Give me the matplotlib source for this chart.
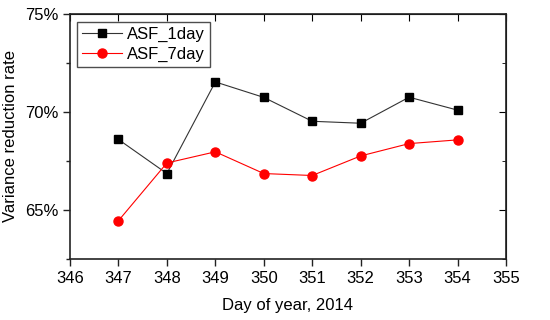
import matplotlib.pyplot as plt
from matplotlib.ticker import FuncFormatter, MultipleLocator

plt.rcParams["font.family"] = ["Liberation Sans", "DejaVu Sans"]

days = [347, 348, 349, 350, 351, 352, 353, 354]
asf_1day = [68.59, 66.85, 71.53, 70.74, 69.52, 69.42, 70.75, 70.09]
asf_7day = [64.44, 67.39, 67.96, 66.85, 66.75, 67.75, 68.38, 68.57]

fig = plt.figure(figsize=(5.5, 3.2), dpi=100)
ax = fig.add_axes([70 / 550, 1 - 258.7 / 320, 436 / 550, 244.7 / 320])

ax.plot(days, asf_1day, color="#333333", lw=0.8, marker="s", ms=5.5,
        mfc="black", mec="black", label="ASF_1day")
ax.plot(days, asf_7day, color="red", lw=0.8, marker="o", ms=6.5,
        mfc="red", mec="red", label="ASF_7day")

ax.set_xlim(346, 355)
ax.set_ylim(62.5, 75)
ax.xaxis.set_major_locator(MultipleLocator(1))
ax.yaxis.set_major_locator(MultipleLocator(5))
ax.yaxis.set_minor_locator(MultipleLocator(2.5))
ax.yaxis.set_major_formatter(FuncFormatter(lambda v, p: f"{v:.0f}%"))

for s in ax.spines.values():
    s.set_linewidth(1.2)
    s.set_color("#222222")

ax.tick_params(axis="both", which="both", labelsize=12, width=1.0,
               color="#222222")
ax.tick_params(axis="both", which="major", length=5, direction="out")
ax.tick_params(axis="y", which="minor", length=3, direction="out")
ax.tick_params(axis="x", which="minor", bottom=False)

# mirrored ticks on top/right pointing inward
axr = ax.secondary_yaxis("right")
axr.yaxis.set_major_locator(MultipleLocator(5))
axr.yaxis.set_minor_locator(MultipleLocator(2.5))
axr.tick_params(which="major", direction="in", length=5, labelright=False)
axr.tick_params(which="minor", direction="in", length=3)
axt = ax.secondary_xaxis("top")
axt.xaxis.set_major_locator(MultipleLocator(1))
axt.tick_params(which="major", direction="in", length=5, labeltop=False)
axt.tick_params(which="minor", top=False)

ax.set_xlabel("Day of year, 2014", fontsize=12, labelpad=9)
ax.set_ylabel("Variance reduction rate", fontsize=12, labelpad=5)

leg = ax.legend(loc="upper left", fontsize=12, frameon=True, fancybox=False,
                edgecolor="#222222", borderpad=0.3, handlelength=2.4,
                handletextpad=0.3, labelspacing=0.3, borderaxespad=0,
                bbox_to_anchor=(0.016, 0.967))
leg.get_frame().set_linewidth(1.0)

fig.savefig("out.png", dpi=100)
